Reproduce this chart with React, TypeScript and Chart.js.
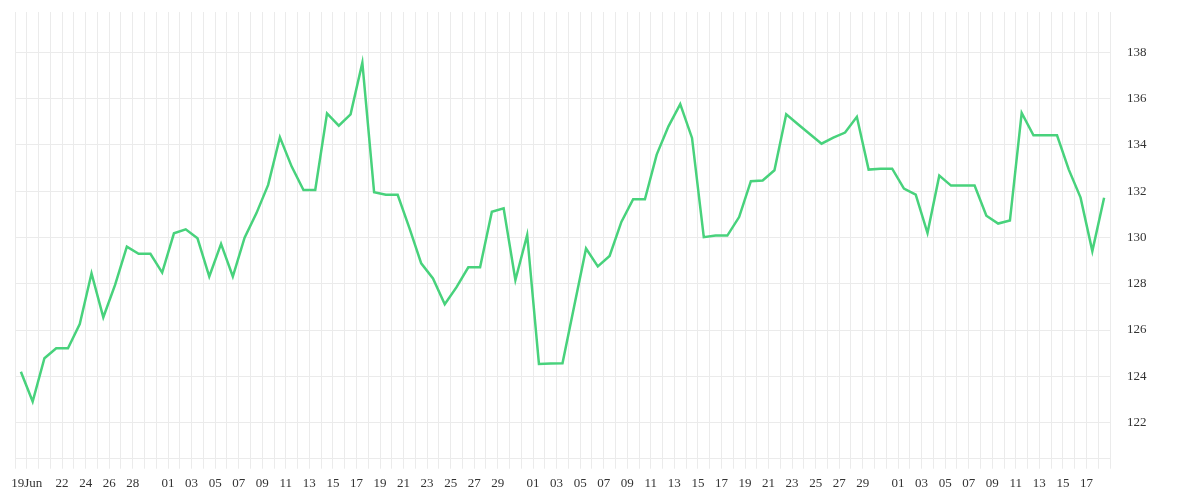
import React, { useEffect, useRef } from 'react';
import { Chart, registerables } from 'chart.js';

Chart.register(...registerables);

// one closing value per day, first point is 18 Jun
const startDay = '2024-06-18';
const prices: number[] = [
    // Jun 18 - Jun 30
    124.2, 122.91, 124.78, 125.21, 125.21, 126.26, 128.45, 126.55, 127.95, 129.6, 129.29, 129.29, 128.48,
    // Jul
    130.18, 130.35, 129.96, 128.31, 129.72, 128.31, 129.99, 131.04, 132.27, 134.33, 133.06, 132.05, 132.05,
    135.36, 134.83, 135.32, 137.55, 131.95, 131.84, 131.84, 130.4, 128.88, 128.23, 127.11, 127.85, 128.71,
    128.71, 131.11, 131.26, 128.16, 130.11,
    // Aug
    124.53, 124.55, 124.56, 127.05, 129.52, 128.75, 129.2, 130.67, 131.65, 131.65, 133.58, 134.8, 135.76,
    134.3, 130.01, 130.08, 130.08, 130.88, 132.43, 132.46, 132.9, 135.32, 134.89, 134.47, 134.05, 134.31,
    134.53, 135.21, 132.93, 132.97, 132.97,
    // Sep
    132.11, 131.85, 130.19, 132.67, 132.24, 132.24, 132.24, 130.94, 130.6, 130.73, 135.38, 134.41, 134.41,
    134.41, 132.93, 131.72, 129.41, 131.71,
];

// one entry per day boundary, Jun 18 .. Sep 19
const tickLabels: string[] = [
    // Jun 18 - 30
    '', '19Jun', '', '', '22', '', '24', '', '26', '', '28', '', '',
    // Jul
    '01', '', '03', '', '05', '', '07', '', '09', '', '11', '', '13', '', '15', '', '17', '', '19', '', '21', '',
    '23', '', '25', '', '27', '', '29', '', '',
    // Aug
    '01', '', '03', '', '05', '', '07', '', '09', '', '11', '', '13', '', '15', '', '17', '', '19', '', '21', '',
    '23', '', '25', '', '27', '', '29', '', '',
    // Sep 1 - 19
    '01', '', '03', '', '05', '', '07', '', '09', '', '11', '', '13', '', '15', '', '17', '', '',
];

const yTicks = [122, 124, 126, 128, 130, 132, 134, 136, 138];

const gridColor = '#ebebeb';

const App: React.FC = () => {
    const chartRef = useRef<HTMLCanvasElement>(null);
    const chartInstance = useRef<Chart | null>(null);

    useEffect(() => {
        if (!chartRef.current) return;
        const ctx = chartRef.current.getContext('2d');
        if (!ctx) return;

        if (chartInstance.current) {
            chartInstance.current.destroy();
        }

        // points sit in the middle of their day
        const points = prices.map((v, i) => ({ x: i + 0.5, y: v }));

        chartInstance.current = new Chart(ctx, {
            type: 'line',
            data: {
                datasets: [{
                    label: startDay,
                    data: points,
                    borderColor: '#48d27c',
                    borderWidth: 2.5,
                    pointRadius: 0,
                    tension: 0,
                    fill: false,
                }]
            },
            options: {
                animation: false,
                responsive: true,
                maintainAspectRatio: false,
                layout: { padding: { left: 15, top: 12, right: 0, bottom: 0 } },
                scales: {
                    x: {
                        type: 'linear',
                        min: 0,
                        max: tickLabels.length - 1,
                        afterBuildTicks: (scale) => {
                            scale.ticks = tickLabels.map((_, i) => ({ value: i }));
                        },
                        afterFit: (scale) => { scale.height = 41.3; },
                        grid: { color: gridColor, tickLength: 10, lineWidth: 1 },
                        border: { color: gridColor },
                        ticks: {
                            autoSkip: false,
                            maxRotation: 0,
                            minRotation: 0,
                            padding: 7,
                            color: '#333',
                            font: { family: 'serif', size: 13 },
                            callback: (value) => tickLabels[Math.round(Number(value))] ?? '',
                        }
                    },
                    y: {
                        type: 'linear',
                        position: 'right',
                        min: 120.44,
                        max: 139.74,
                        afterBuildTicks: (scale) => {
                            scale.ticks = yTicks.map((v) => ({ value: v }));
                        },
                        afterFit: (scale) => { scale.width = 90; },
                        // invisible tick marks push the labels away from the plot
                        grid: { color: gridColor, drawTicks: true, tickLength: 17, tickColor: 'rgba(0,0,0,0)' },
                        border: { display: false },
                        ticks: {
                            padding: 0,
                            color: '#333',
                            font: { family: 'serif', size: 13 },
                        }
                    }
                },
                plugins: {
                    legend: { display: false },
                    tooltip: { enabled: false }
                }
            }
        });

        return () => {
            if (chartInstance.current) {
                chartInstance.current.destroy();
                chartInstance.current = null;
            }
        };
    }, []);

    return (
        <div style={{ position: 'fixed', inset: 0, background: '#fff' }}>
            <canvas ref={chartRef}></canvas>
        </div>
    );
};

export default App;
